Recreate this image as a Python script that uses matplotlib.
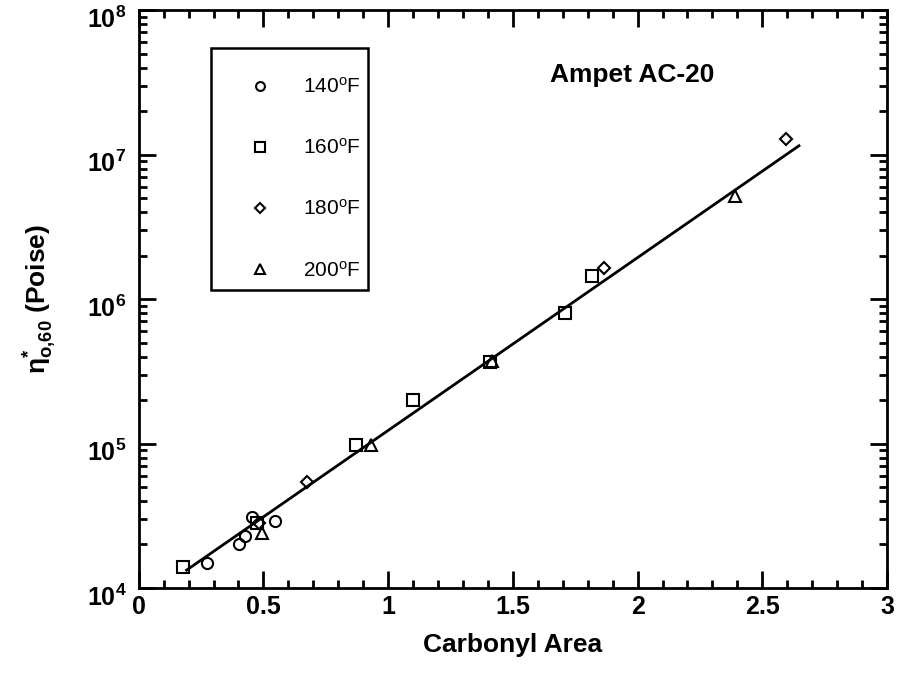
import matplotlib
matplotlib.use("Agg")
import matplotlib.pyplot as plt
import matplotlib.transforms as mtransforms
from matplotlib.patches import Rectangle
from matplotlib.ticker import FixedLocator, MultipleLocator, LogLocator, NullFormatter

plt.rcParams['font.family'] = ['Liberation Sans', 'DejaVu Sans']
plt.rcParams['mathtext.fontset'] = 'custom'
plt.rcParams['mathtext.rm'] = 'Liberation Sans'
plt.rcParams['mathtext.bf'] = 'Liberation Sans:bold'
plt.rcParams['mathtext.it'] = 'Liberation Sans:italic'
plt.rcParams['mathtext.default'] = 'bf'

# ---- data ----
x_140 = [0.275, 0.403, 0.426, 0.455, 0.546]
y_140 = [15000, 20000, 23000, 30800, 29100]

x_160 = [0.176, 0.475, 0.873, 1.098, 1.410, 1.708, 1.817]
y_160 = [14000, 28000, 97700, 200000, 365000, 8.0e5, 1.44e6]

x_180 = [0.482, 0.674, 1.864, 2.596]
y_180 = [28000, 54200, 1.63e6, 1.28e7]

x_200 = [0.495, 0.933, 1.418, 2.392]
y_200 = [23900, 98000, 370000, 5.19e6]

fit_x = [0.192, 2.647]
fit_y = [1.33e4, 1.15e7]

labels = [r'140$^{\mathrm{o}}$F', r'160$^{\mathrm{o}}$F', r'180$^{\mathrm{o}}$F', r'200$^{\mathrm{o}}$F']
x_ticks = [0, 0.5, 1, 1.5, 2, 2.5, 3]
x_ticklabels = ['0', '0.5', '1', '1.5', '2', '2.5', '3']

# ---- figure ----
fig = plt.figure(figsize=(8.99, 6.92), dpi=100)
ax = fig.add_axes([0.1543, 0.1503, 0.8324, 0.8352])

mk = dict(linestyle='none', markerfacecolor='none', markeredgecolor='black', markeredgewidth=1.5)
ax.plot(fit_x, fit_y, color='black', lw=2.0, zorder=2)
h1, = ax.plot(x_140, y_140, marker='o', markersize=8, label=labels[0], **mk)
h2, = ax.plot(x_160, y_160, marker='s', markersize=8.5, label=labels[1], **mk)
h3, = ax.plot(x_180, y_180, marker='D', markersize=6, label=labels[2], **mk)
h4, = ax.plot(x_200, y_200, marker='^', markersize=9, label=labels[3], **mk)

ax.set_yscale('log')
ax.set_xlim(0, 3)
ax.set_ylim(1e4, 1e8)

ax.xaxis.set_major_locator(FixedLocator(x_ticks))
ax.set_xticklabels(x_ticklabels)
ax.xaxis.set_minor_locator(MultipleLocator(0.1))
ax.yaxis.set_major_locator(LogLocator(base=10, numticks=10))
ax.yaxis.set_minor_locator(LogLocator(base=10, subs=range(2, 10), numticks=10))
ax.yaxis.set_minor_formatter(NullFormatter())

ax.tick_params(which='both', direction='in', top=True, right=True, width=2, colors='black')
ax.tick_params(which='major', length=12)
ax.tick_params(which='minor', length=6)
ax.tick_params(axis='x', which='major', pad=5, labelsize=18)
ax.tick_params(axis='y', which='major', pad=9, labelsize=18)
for lab in ax.get_xticklabels() + ax.get_yticklabels():
    lab.set_fontweight('bold')

# shift y tick labels slightly downward (as in the reference)
shift = mtransforms.ScaledTranslation(0, -7 / 100, fig.dpi_scale_trans)
for tk in ax.yaxis.get_major_ticks():
    tk.label1.set_transform(tk.label1.get_transform() + shift)

for s in ax.spines.values():
    s.set_linewidth(2)

ax.set_xlabel('Carbonyl Area', fontsize=19, fontweight='bold', labelpad=10)
ax.set_ylabel(r'$\eta^{*}_{\mathbf{o{,}60}}$ (Poise)', fontsize=19, fontweight='bold', labelpad=20)

ax.text(0.659, 0.8875, 'Ampet AC-20', transform=ax.transAxes, fontsize=19,
        fontweight='bold', ha='center', va='center')

ax.add_patch(Rectangle((0.0966, 0.5156), 0.2098, 0.4187, transform=ax.transAxes,
                       fill=False, edgecolor='black', linewidth=1.8, zorder=5))
leg = ax.legend(handles=[h1, h2, h3, h4], loc='upper left', bbox_to_anchor=(0.1347, 0.884),
                fontsize=15, frameon=False, labelspacing=1.97, borderpad=0,
                handlelength=2, handletextpad=1.05, numpoints=1, markerscale=0.8,
                borderaxespad=0)

fig.savefig('out.png', dpi=100)
